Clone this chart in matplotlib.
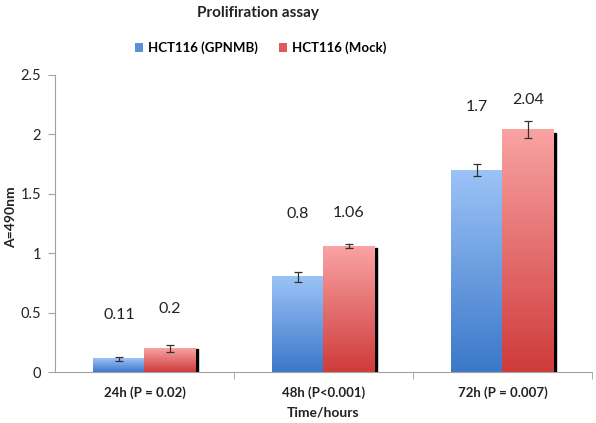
import numpy as np
import matplotlib
matplotlib.use("Agg")
import matplotlib.pyplot as plt
from matplotlib.colors import LinearSegmentedColormap
from matplotlib.patches import Patch

plt.rcParams['font.family'] = ['Lato', 'DejaVu Sans']

categories = ["24h (P = 0.02)", "48h (P<0.001)", "72h (P = 0.007)"]
series_names = ["HCT116 (GPNMB)", "HCT116 (Mock)"]
gpnmb = [0.11, 0.80, 1.70]
mock = [0.20, 1.06, 2.04]
gpnmb_err = [0.02, 0.04, 0.05]
mock_err = [0.03, 0.015, 0.07]
gpnmb_labels = ["0.11", "0.8", "1.7"]
mock_labels = ["0.2", "1.06", "2.04"]
gpnmb_label_y = [0.48, 1.33, 2.23]
mock_label_y = [0.53, 1.34, 2.29]

fig = plt.figure(figsize=(5.96, 4.23), dpi=100)
ax = fig.add_axes([55/596, 51/423, 537/596, 297/423])

blue_cmap = LinearSegmentedColormap.from_list("b", ["#3b78c9", "#9cc3f7"])
red_cmap = LinearSegmentedColormap.from_list("r", ["#cf3b3b", "#f9a3a3"])
grad = np.linspace(0, 1, 256).reshape(-1, 1)

w = 0.285
x = np.arange(len(categories))

def draw(xs, vals, errs, cmap, shadow):
    bars = ax.bar(xs, vals, width=w, color="none", edgecolor="none", zorder=2)
    for b in bars:
        x0, x1 = b.get_x(), b.get_x() + b.get_width()
        h = b.get_height()
        if shadow:
            ax.add_patch(plt.Rectangle((x1, 0), 0.016, h * 0.985, color="black", zorder=1.5))
        ax.imshow(grad, extent=(x0, x1, 0, h), origin="lower", cmap=cmap,
                  aspect="auto", zorder=2)
    ax.errorbar(xs, vals, yerr=errs, fmt="none", ecolor="#333333", elinewidth=0.9,
                capsize=3, capthick=0.9, zorder=4)

draw(x - w/2, gpnmb, gpnmb_err, blue_cmap, False)
draw(x + w/2, mock, mock_err, red_cmap, True)
ax.set_xlim(-0.5, 2.5)
ax.set_ylim(0, 2.5)

for i in range(len(categories)):
    ax.text(x[i] - w/2, gpnmb_label_y[i], gpnmb_labels[i], ha="center", va="center", fontsize=11.5, color="#222222")
    ax.text(x[i] + w/2, mock_label_y[i], mock_labels[i], ha="center", va="center", fontsize=11.5, color="#222222")

for s in ["top", "right"]:
    ax.spines[s].set_visible(False)
ax.spines["left"].set_color("#a0a0a0")
ax.spines["bottom"].set_color("#a0a0a0")

ax.set_yticks([0, 0.5, 1, 1.5, 2, 2.5])
ax.set_yticklabels(["0", "0.5", "1", "1.5", "2", "2.5"])
ax.tick_params(axis="y", colors="#a0a0a0", labelcolor="#222222", labelsize=10.5, length=5, direction="out", pad=5)
ax.set_xticks(x)
ax.set_xticklabels(categories, fontweight="bold")
ax.tick_params(axis="x", length=0, labelsize=9.5, labelcolor="#222222", pad=10)
ax.set_xticks([0.5, 1.5, 2.5], minor=True)
ax.tick_params(axis="x", which="minor", length=5, colors="#a0a0a0")

fig.text(323/596, 1 - 412/423, "Time/hours", ha="center", va="center",
         fontweight="bold", fontsize=10, color="#222222")
fig.text(11/596, 1 - 217/423, "A=490nm", ha="center", va="center", rotation=90,
         fontsize=10, fontweight="bold", color="#222222")

fig.text(258/596, 1 - 13/423, "Prolifiration assay", ha="center", va="center",
         fontsize=11, fontweight="bold", color="#222222")
handles = [Patch(facecolor="#5b8fd8"), Patch(facecolor="#e05a5a")]
fig.legend(handles, series_names, loc="center", bbox_to_anchor=(261/596, 1 - 48/423),
           ncol=2, frameon=False, handlelength=0.6, handleheight=0.6, handletextpad=0.4,
           columnspacing=1.6, prop={"weight": "bold", "size": 9.5})

fig.savefig("out.png", dpi=100)
